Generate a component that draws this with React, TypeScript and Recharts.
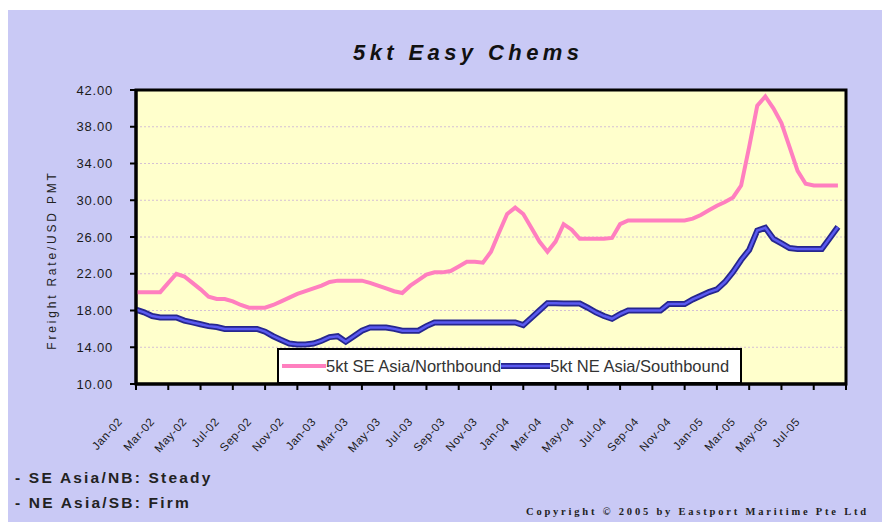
import React from "react";
import {
  LineChart,
  Line,
  XAxis,
  YAxis,
  CartesianGrid,
  ReferenceArea,
  Legend,
} from "recharts";

// Month labels for every second month (Jan-02 = month 0)
const monthLabels = [
  "Jan-02", "Mar-02", "May-02", "Jul-02", "Sep-02", "Nov-02",
  "Jan-03", "Mar-03", "May-03", "Jul-03", "Sep-03", "Nov-03",
  "Jan-04", "Mar-04", "May-04", "Jul-04", "Sep-04", "Nov-04",
  "Jan-05", "Mar-05", "May-05", "Jul-05", "",
];
const xTicks = monthLabels.map((_, i) => i * 2);
const yTicks = [10, 14, 18, 22, 26, 30, 34, 38, 42];

// Semi-monthly readings (USD PMT), starting Jan-02
const seAsiaNorthbound = [
  20.0, 20.0, 20.0, 20.0, 21.0, 22.0, 21.7, 21.0, 20.3, 19.5,
  19.25, 19.25, 19.0, 18.6, 18.3, 18.3, 18.3, 18.6, 19.0, 19.4,
  19.8, 20.1, 20.4, 20.7, 21.1, 21.25, 21.25, 21.25, 21.25, 21.0,
  20.7, 20.4, 20.1, 19.9, 20.7, 21.3, 21.9, 22.15, 22.15, 22.3,
  22.8, 23.3, 23.3, 23.2, 24.4, 26.5, 28.5, 29.2, 28.5, 27.0,
  25.5, 24.4, 25.5, 27.4, 26.8, 25.8, 25.8, 25.8, 25.8, 25.9,
  27.4, 27.8, 27.8, 27.8, 27.8, 27.8, 27.8, 27.8, 27.8, 28.0,
  28.4, 28.9, 29.4, 29.8, 30.3, 31.6, 35.8, 40.3, 41.3, 40.0,
  38.4, 35.8, 33.2, 31.8, 31.6, 31.6, 31.6, 31.6,
];
const neAsiaSouthbound = [
  18.1, 17.8, 17.4, 17.25, 17.25, 17.25, 16.9, 16.7, 16.5, 16.3,
  16.2, 16.0, 16.0, 16.0, 16.0, 16.0, 15.7, 15.2, 14.8, 14.4,
  14.3, 14.3, 14.4, 14.7, 15.1, 15.2, 14.6, 15.2, 15.8, 16.15,
  16.15, 16.15, 16.0, 15.8, 15.8, 15.8, 16.3, 16.7, 16.7, 16.7,
  16.7, 16.7, 16.7, 16.7, 16.7, 16.7, 16.7, 16.7, 16.4, 17.2,
  18.0, 18.8, 18.8, 18.75, 18.75, 18.75, 18.3, 17.8, 17.4, 17.1,
  17.6, 18.0, 18.0, 18.0, 18.0, 18.0, 18.7, 18.7, 18.7, 19.2,
  19.6, 20.0, 20.3, 21.1, 22.2, 23.5, 24.6, 26.7, 27.0, 25.8,
  25.3, 24.8, 24.7, 24.7, 24.7, 24.7, 25.9, 27.1,
];

const data = seAsiaNorthbound.map((v, i) => ({
  m: i * 0.5,
  se: v,
  ne: neAsiaSouthbound[i],
}));

const FONT = '"Liberation Sans", Arial, sans-serif';

const XTick = (props: any) => {
  const { x, y, payload } = props;
  const label = monthLabels[Math.round(payload.value / 2)] || "";
  return (
    <g transform={`translate(${x - 13},${y + 30})`}>
      <text
        textAnchor="end"
        transform="rotate(-48)"
        fontSize={11.5}
        fontFamily={FONT}
        fill="#1a1a1a"
        letterSpacing={0.6}
      >
        {label}
      </text>
    </g>
  );
};

const LegendBox = () => (
  <div
    style={{
      width: 465,
      height: 36,
      boxSizing: "border-box",
      border: "2.5px solid #000",
      background: "#ffffff",
      display: "flex",
      alignItems: "center",
      paddingLeft: 3,
      fontFamily: FONT,
      fontSize: 16.5,
      color: "#333",
      whiteSpace: "nowrap",
    }}
  >
    <svg width={44} height={10}>
      <line x1={0} y1={5} x2={44} y2={5} stroke="#ff7fbf" strokeWidth={4} />
    </svg>
    <span>5kt SE Asia/Northbound</span>
    <svg width={49} height={10}>
      <line x1={0} y1={5} x2={49} y2={5} stroke="#26268f" strokeWidth={6} />
      <line x1={0} y1={5} x2={49} y2={5} stroke="#5a5af0" strokeWidth={2.5} />
    </svg>
    <span>5kt NE Asia/Southbound</span>
  </div>
);

export default function App() {
  return (
    <div
      style={{
        position: "relative",
        width: 880,
        height: 512,
        marginTop: 2,
        background: "#c9c9f5",
        fontFamily: FONT,
      }}
    >
      <div
        style={{
          position: "absolute",
          left: 345,
          top: 30,
          fontSize: 22,
          lineHeight: "26px",
          fontWeight: "bold",
          fontStyle: "italic",
          letterSpacing: 4.4,
          color: "#111",
          zIndex: 2,
        }}
      >
        5kt Easy Chems
      </div>
      <div
        style={{
          position: "absolute",
          left: -56,
          top: 242,
          width: 200,
          textAlign: "center",
          transform: "rotate(-90deg)",
          fontSize: 12,
          lineHeight: "16px",
          letterSpacing: 2.8,
          color: "#222",
          zIndex: 2,
        }}
      >
        Freight Rate/USD PMT
      </div>
      <LineChart
        width={880}
        height={512}
        data={data}
        margin={{ top: 80, right: 42, bottom: 42, left: 68 }}
      >
        <CartesianGrid
          vertical={false}
          fill="#ffffcc"
          stroke="#d4c0d4"
          strokeDasharray="2 2"
        />
        <XAxis
          dataKey="m"
          type="number"
          domain={[0, 44]}
          ticks={xTicks}
          interval={0}
          height={60}
          tickSize={6}
          axisLine={{ stroke: "#000", strokeWidth: 3 }}
          tickLine={{ stroke: "#000", strokeWidth: 2 }}
          tick={<XTick />}
        />
        <YAxis
          type="number"
          domain={[10, 42]}
          ticks={yTicks}
          interval={0}
          width={60}
          tickSize={6}
          tickMargin={17}
          tickFormatter={(v: number) => v.toFixed(2)}
          axisLine={{ stroke: "#000", strokeWidth: 3 }}
          tickLine={{ stroke: "#000", strokeWidth: 2 }}
          tick={{ fontSize: 13, fill: "#1a1a1a", fontFamily: FONT, letterSpacing: 0.8 }}
        />
        <ReferenceArea
          x1={0}
          x2={44}
          y1={10}
          y2={42}
          fill="none"
          stroke="#000"
          strokeWidth={3}
          fillOpacity={0}
        />
        <Line
          dataKey="se"
          type="linear"
          stroke="#ff7fbf"
          strokeWidth={4}
          dot={false}
          isAnimationActive={false}
        />
        <Line
          dataKey="ne"
          type="linear"
          stroke="#26268f"
          strokeWidth={6}
          dot={false}
          isAnimationActive={false}
        />
        <Line
          dataKey="ne"
          type="linear"
          stroke="#5a5af0"
          strokeWidth={2.5}
          dot={false}
          isAnimationActive={false}
        />
        <Legend
          content={() => <LegendBox />}
          wrapperStyle={{ left: 269, top: 338, width: 465, height: 36 }}
        />
      </LineChart>
      <div
        style={{
          position: "absolute",
          left: 7,
          top: 459,
          fontSize: 15.5,
          lineHeight: "18px",
          fontWeight: "bold",
          letterSpacing: 2.2,
          color: "#222",
        }}
      >
        - SE Asia/NB: Steady
      </div>
      <div
        style={{
          position: "absolute",
          left: 7,
          top: 484,
          fontSize: 15.5,
          lineHeight: "18px",
          fontWeight: "bold",
          letterSpacing: 2.2,
          color: "#222",
        }}
      >
        - NE Asia/SB: Firm
      </div>
      <div
        style={{
          position: "absolute",
          left: 518,
          top: 495,
          fontSize: 10.5,
          lineHeight: "14px",
          fontWeight: "bold",
          fontFamily: '"Liberation Serif", "DejaVu Serif", serif',
          letterSpacing: 2.8,
          color: "#222",
          whiteSpace: "nowrap",
        }}
      >
        Copyright © 2005 by Eastport Maritime Pte Ltd
      </div>
    </div>
  );
}
